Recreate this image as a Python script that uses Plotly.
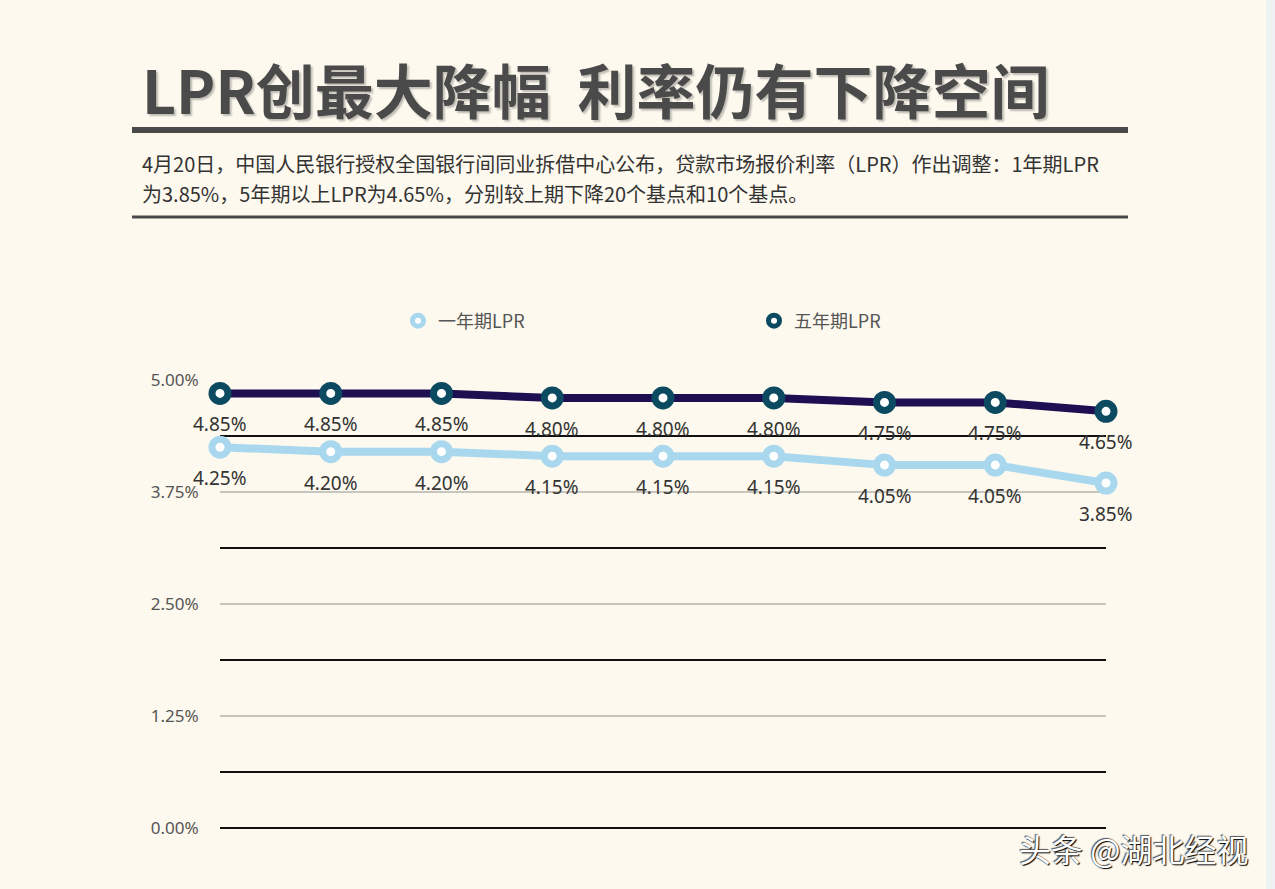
import plotly.graph_objects as go

periods = ["2019-08", "2019-09", "2019-10", "2019-11", "2019-12", "2020-01", "2020-02", "2020-03", "2020-04"]
lpr_1y = [4.25, 4.20, 4.20, 4.15, 4.15, 4.15, 4.05, 4.05, 3.85]
lpr_5y = [4.85, 4.85, 4.85, 4.80, 4.80, 4.80, 4.75, 4.75, 4.65]
series_names = ["一年期LPR", "五年期LPR"]
y_ticks = [0, 1.25, 2.5, 3.75, 5.0]
y_ticktext = [f"{v:.2f}%" for v in y_ticks]

BG = "#fdf9ee"
LIGHT = "#a9d8ee"
DARK_LINE = "#1d0f52"
DARK_MARK = "#0b4a60"
TXT = "#333333"

W, H = 1275, 889
L, R, T, B = 220, 169, 380, 61
PW, PH = W - L - R, H - T - B


def px(x):
    return (x - L) / PW


def py(y):
    return (H - B - y) / PH


xs = list(range(len(periods)))

fig = go.Figure()

fig.add_trace(go.Scatter(
    x=xs, y=lpr_1y, mode="lines+markers", showlegend=False, cliponaxis=False,
    line=dict(color=LIGHT, width=8),
    marker=dict(symbol="circle", size=16, color="#ffffff", line=dict(color=LIGHT, width=7)),
))
fig.add_trace(go.Scatter(
    x=xs, y=lpr_5y, mode="lines+markers", showlegend=False, cliponaxis=False,
    line=dict(color=DARK_LINE, width=8),
    marker=dict(symbol="circle", size=16, color="#ffffff", line=dict(color=DARK_MARK, width=7)),
))
# legend-only entries (marker only)
fig.add_trace(go.Scatter(
    x=[None], y=[None], mode="markers", name=series_names[0],
    marker=dict(symbol="circle", size=11, color="#ffffff", line=dict(color=LIGHT, width=5)),
))
fig.add_trace(go.Scatter(
    x=[None], y=[None], mode="markers", name=series_names[1],
    marker=dict(symbol="circle", size=11, color="#ffffff", line=dict(color=DARK_MARK, width=5)),
))

annotations = []
for series in (lpr_1y, lpr_5y):
    for x, v in zip(xs, series):
        annotations.append(dict(
            x=x, y=v, xref="x", yref="y", text=f"{v:.2f}%", showarrow=False,
            yshift=-31, font=dict(family="Noto Sans, sans-serif", size=19, color=TXT),
        ))

# Title
annotations.append(dict(
    x=px(140), y=py(88), xref="paper", yref="paper", xanchor="left", yanchor="middle",
    text="<b>LPR创最大降幅  利率仍有下降空间</b>", showarrow=False,
    font=dict(family="Noto Sans CJK SC, sans-serif", size=59, color="#4a4a4a",
              shadow="2px 2px 2px rgba(0,0,0,0.25)"),
))
# Subtitle (two lines)
subtitle_lines = [
    "4月20日，中国人民银行授权全国银行间同业拆借中心公布，贷款市场报价利率（LPR）作出调整：1年期LPR",
    "为3.85%，5年期以上LPR为4.65%，分别较上期下降20个基点和10个基点。",
]
for i, line in enumerate(subtitle_lines):
    annotations.append(dict(
        x=px(140), y=py(163 + 30 * i), xref="paper", yref="paper", xanchor="left", yanchor="middle",
        align="left", text=line, showarrow=False,
        font=dict(family="Noto Sans CJK SC, sans-serif", size=20, color=TXT),
    ))
# Watermark
annotations.append(dict(
    x=px(1250), y=py(848), xref="paper", yref="paper", xanchor="right", yanchor="middle",
    text="头条 @湖北经视", showarrow=False,
    font=dict(family="Noto Sans CJK SC, sans-serif", size=32, color="#ffffff",
              shadow="1px 1px 1px #000, -1px -1px 1px #555"),
))

shapes = [
    dict(type="line", xref="paper", yref="paper", x0=px(132), x1=px(1128),
         y0=py(130), y1=py(130), line=dict(color="#4a4a4a", width=6)),
    dict(type="line", xref="paper", yref="paper", x0=px(132), x1=px(1128),
         y0=py(217), y1=py(217), line=dict(color="#4a4a4a", width=3)),
    dict(type="rect", xref="paper", yref="paper", x0=px(1266), x1=px(1275),
         y0=py(889), y1=py(0), line=dict(width=0), fillcolor="#eef2f3", layer="below"),
]

fig.update_layout(
    width=W, height=H,
    paper_bgcolor=BG, plot_bgcolor=BG,
    margin=dict(l=L, r=R, t=T, b=B),
    showlegend=True,
    legend=dict(
        orientation="h", xref="container", yref="container",
        x=398 / W, y=1 - 321 / H, xanchor="left", yanchor="middle",
        entrywidth=311, entrywidthmode="pixels",
        font=dict(family="Noto Sans CJK SC, sans-serif", size=18, color="#555555"),
        bgcolor="rgba(0,0,0,0)",
    ),
    annotations=annotations,
    shapes=shapes,
    xaxis=dict(range=[0, 8], showgrid=False, zeroline=False, showticklabels=False,
               showline=False, ticks=""),
    yaxis=dict(
        range=[0, 5], tickmode="array", tickvals=y_ticks, ticktext=y_ticktext,
        showgrid=True, gridcolor="#c6c5be", gridwidth=1.5,
        zeroline=True, zerolinecolor="#111111", zerolinewidth=2,
        minor=dict(dtick=0.625, tick0=0, showgrid=True, gridcolor="#111111", gridwidth=2, ticks=""),
        tickfont=dict(family="Noto Sans, sans-serif", size=17, color="#555555"),
        ticks="outside", ticklen=17, tickcolor="rgba(0,0,0,0)",
        showline=False,
    ),
)

fig.write_html("out.html", config={"displayModeBar": False},
               post_script="document.body.style.margin='0';")
